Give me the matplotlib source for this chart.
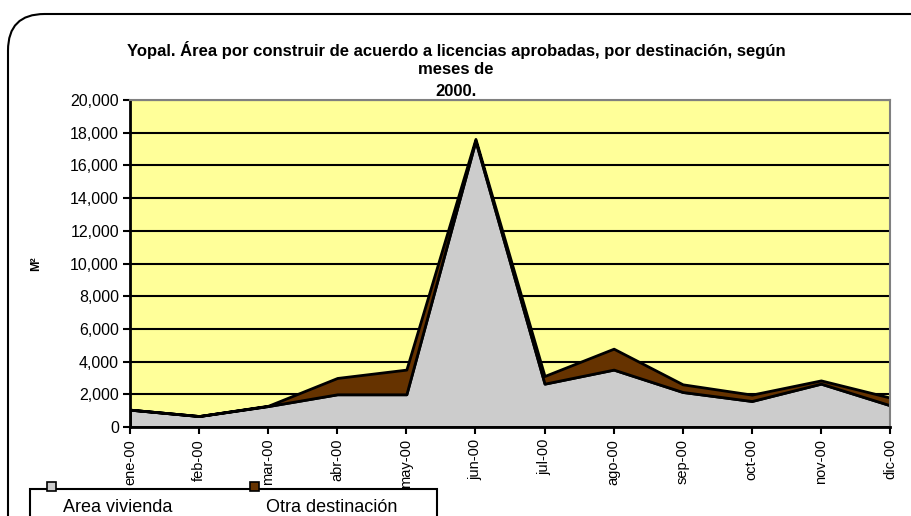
import matplotlib.pyplot as plt
from matplotlib.patches import FancyBboxPatch, Rectangle
from matplotlib.ticker import FuncFormatter

plt.rcParams['font.family'] = ['Liberation Sans', 'DejaVu Sans']

months = ['ene-00', 'feb-00', 'mar-00', 'abr-00', 'may-00', 'jun-00',
          'jul-00', 'ago-00', 'sep-00', 'oct-00', 'nov-00', 'dic-00']
vivienda = [1060, 670, 1280, 2000, 2000, 17500, 2650, 3510, 2140, 1590, 2650, 1330]
otra = [0, 0, 20, 1000, 1510, 120, 470, 1280, 470, 390, 200, 470]

fig = plt.figure(figsize=(9.12, 5.16), dpi=100)

# outer rounded frame
frame = FancyBboxPatch((8 / 912, -0.2), 1.2, (516 - 14) / 516 + 0.2,
                       boxstyle='round,pad=0,rounding_size=0.04',
                       transform=fig.transFigure, fill=False,
                       edgecolor='black', linewidth=1.5, mutation_aspect=912 / 516)
fig.patches.append(frame)

ax = fig.add_axes([130 / 912, 89 / 516, 760 / 912, 327 / 516])
ax.set_facecolor('#FFFF99')
x = list(range(len(months)))
ax.stackplot(x, vivienda, otra, colors=['#CCCCCC', '#663300'],
             edgecolor='black', linewidth=2)
ax.set_xlim(0, len(months) - 1)
ax.set_ylim(0, 20000)
ax.set_yticks(range(0, 20001, 2000))
ax.yaxis.set_major_formatter(FuncFormatter(lambda v, p: f'{int(v):,}'))
ax.grid(axis='y', color='black', linewidth=1.5)
ax.set_axisbelow(True)
ax.set_xticks(x)
ax.set_xticklabels(months, rotation=90, fontsize=10.5)
ax.tick_params(axis='y', labelsize=11.5, direction='out', length=5, width=1.5, pad=3)
ax.tick_params(axis='x', direction='out', length=5, width=1.5)
for s in ['top', 'right']:
    ax.spines[s].set_color('#808080')
    ax.spines[s].set_linewidth(1.5)
for s in ['left', 'bottom']:
    ax.spines[s].set_linewidth(2)
ax.set_ylabel('M²', fontsize=9, fontweight='bold', labelpad=20)

title_kw = dict(ha='center', va='center', fontsize=12, fontweight='bold')
fig.text(0.5, 1 - 50 / 516,
         'Yopal. Área por construir de acuerdo a licencias aprobadas, por destinación, según',
         **title_kw)
fig.text(0.5, 1 - 69 / 516, 'meses de', **title_kw)
fig.text(0.5, 1 - 91 / 516, '2000.', **title_kw)

# legend box cut at bottom
leg = Rectangle((30 / 912, -0.1), (437 - 30) / 912, (516 - 489) / 516 + 0.1,
                transform=fig.transFigure, facecolor='white', edgecolor='black',
                linewidth=1.5)
fig.patches.append(leg)
for px, col, label in [(47, '#CCCCCC', 'Area vivienda'), (250, '#663300', 'Otra destinación')]:
    fig.patches.append(Rectangle((px / 912, 1 - 491 / 516), 9 / 912, 9 / 516,
                                 transform=fig.transFigure, facecolor=col,
                                 edgecolor='black', linewidth=1.2))
    fig.text((px + 16) / 912, 1 - 508 / 516, label, ha='left', va='center', fontsize=13)

fig.savefig('out.png', dpi=100)
